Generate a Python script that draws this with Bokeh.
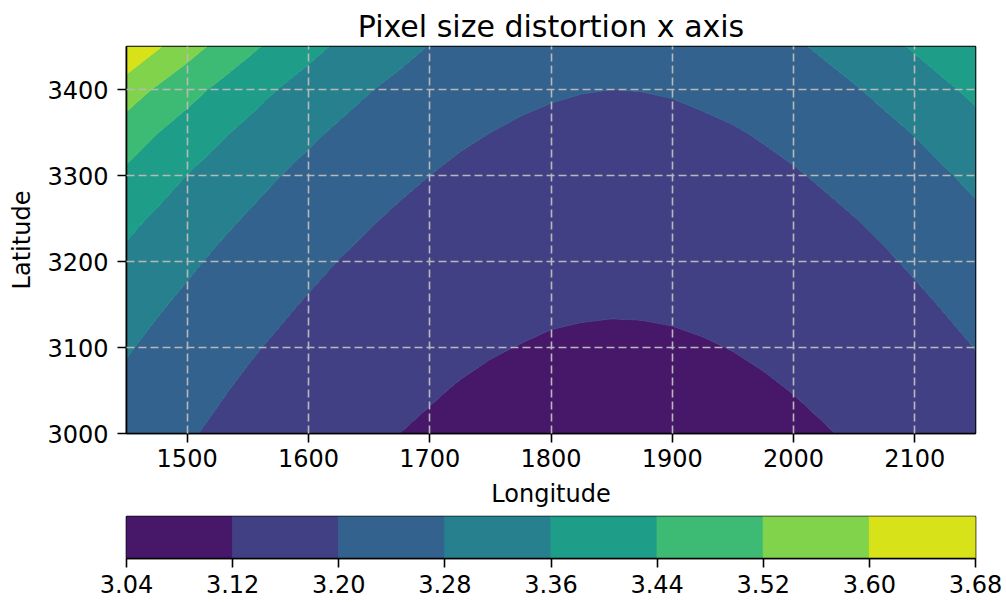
import numpy as np
from bokeh.plotting import figure
from bokeh.layouts import column
from bokeh.models import Range1d, FixedTicker, PrintfTickFormatter, ColumnDataSource
from bokeh.palettes import Viridis256
from bokeh.embed import file_html
from bokeh.resources import INLINE

# ---- data (read / estimated from the reference) ----
lon = [1450, 1475, 1500, 1525, 1550, 1575, 1600, 1625, 1650, 1675, 1700, 1725, 1750, 1775, 1800,
       1825, 1850, 1875, 1900, 1925, 1950, 1975, 2000, 2025, 2050, 2075, 2100, 2125, 2150]
lat = [3000, 3050, 3100, 3150, 3200, 3250, 3300, 3350, 3400, 3450]

size_3000 = [3.243, 3.224, 3.206, 3.190, 3.175, 3.162, 3.150, 3.139, 3.129, 3.120, 3.113, 3.107, 3.102, 3.098, 3.095,
             3.093, 3.092, 3.092, 3.094, 3.096, 3.100, 3.105, 3.110, 3.117, 3.125, 3.135, 3.145, 3.157, 3.170]
size_3050 = [3.263, 3.242, 3.224, 3.206, 3.190, 3.176, 3.163, 3.151, 3.141, 3.132, 3.124, 3.117, 3.112, 3.108, 3.104,
             3.103, 3.102, 3.102, 3.104, 3.106, 3.110, 3.115, 3.121, 3.129, 3.137, 3.147, 3.158, 3.171, 3.184]
size_3100 = [3.286, 3.263, 3.243, 3.224, 3.207, 3.192, 3.178, 3.165, 3.154, 3.145, 3.136, 3.129, 3.123, 3.119, 3.115,
             3.113, 3.112, 3.113, 3.114, 3.117, 3.121, 3.126, 3.133, 3.141, 3.150, 3.161, 3.173, 3.186, 3.201]
size_3150 = [3.312, 3.288, 3.266, 3.245, 3.227, 3.210, 3.195, 3.181, 3.169, 3.159, 3.149, 3.142, 3.135, 3.130, 3.127,
             3.125, 3.124, 3.124, 3.126, 3.129, 3.133, 3.139, 3.146, 3.155, 3.165, 3.176, 3.189, 3.204, 3.220]
size_3200 = [3.343, 3.316, 3.292, 3.269, 3.249, 3.230, 3.214, 3.199, 3.186, 3.174, 3.164, 3.156, 3.149, 3.144, 3.140,
             3.137, 3.136, 3.137, 3.138, 3.142, 3.147, 3.153, 3.161, 3.170, 3.181, 3.193, 3.208, 3.224, 3.241]
size_3250 = [3.379, 3.350, 3.322, 3.297, 3.275, 3.254, 3.236, 3.219, 3.205, 3.192, 3.181, 3.172, 3.164, 3.158, 3.154,
             3.151, 3.150, 3.150, 3.152, 3.156, 3.161, 3.168, 3.177, 3.187, 3.199, 3.213, 3.229, 3.247, 3.266]
size_3300 = [3.425, 3.391, 3.359, 3.331, 3.305, 3.282, 3.261, 3.243, 3.226, 3.212, 3.200, 3.189, 3.181, 3.174, 3.169,
             3.166, 3.165, 3.165, 3.168, 3.172, 3.178, 3.186, 3.195, 3.207, 3.220, 3.236, 3.254, 3.274, 3.296]
size_3350 = [3.482, 3.442, 3.406, 3.373, 3.343, 3.316, 3.292, 3.271, 3.252, 3.235, 3.221, 3.209, 3.200, 3.192, 3.187,
             3.183, 3.182, 3.182, 3.185, 3.190, 3.196, 3.205, 3.216, 3.229, 3.245, 3.263, 3.283, 3.306, 3.332]
size_3400 = [3.560, 3.511, 3.467, 3.427, 3.391, 3.359, 3.331, 3.305, 3.283, 3.264, 3.247, 3.233, 3.222, 3.213, 3.206,
             3.202, 3.200, 3.201, 3.204, 3.210, 3.218, 3.228, 3.241, 3.257, 3.275, 3.296, 3.320, 3.347, 3.378]
size_3450 = [3.672, 3.609, 3.552, 3.502, 3.457, 3.417, 3.381, 3.350, 3.322, 3.299, 3.278, 3.261, 3.247, 3.237, 3.229,
             3.224, 3.222, 3.223, 3.227, 3.233, 3.243, 3.255, 3.271, 3.290, 3.313, 3.339, 3.368, 3.402, 3.440]

levels = [3.04, 3.12, 3.20, 3.28, 3.36, 3.44, 3.52, 3.60, 3.68]
lon_ticks = [1500, 1600, 1700, 1800, 1900, 2000, 2100]
lat_ticks = [3000, 3100, 3200, 3300, 3400]

Z = np.array([size_3000, size_3050, size_3100, size_3150, size_3200,
              size_3250, size_3300, size_3350, size_3400, size_3450])

# viridis sampled at the middle of each filled band (as matplotlib contourf does)
span = levels[-1] - levels[0]
nb = len(levels) - 1
colors = [Viridis256[min(255, int(((levels[i] + levels[i + 1]) / 2 - levels[0]) / span * 256))]
          for i in range(nb)]
# iso-lines coloured like the band above them, to hide anti-aliasing seams
line_colors = [colors[min(k, nb - 1)] for k in range(len(levels))]

FONT = "DejaVu Sans"

p = figure(width=1006, height=513, x_range=Range1d(lon[0], lon[-1]), y_range=Range1d(lat[0], lat[-1]),
           output_backend="svg", toolbar_location=None, min_border_left=126, min_border_right=31,
           min_border_top=46, min_border_bottom=80, title="Pixel size distortion x axis")
p.contour(x=lon, y=lat, z=Z, levels=levels, fill_color=colors, line_color=line_colors, line_width=1)
p.title.text_font = FONT
p.title.text_font_size = "30px"
p.title.text_font_style = "normal"
p.title.text_color = "black"
p.title.align = "center"
p.title.standoff = 6
for ax in (p.xaxis[0], p.yaxis[0]):
    ax.major_label_text_font = FONT
    ax.major_label_text_font_size = "24px"
    ax.major_label_text_color = "black"
    ax.axis_label_text_font = FONT
    ax.axis_label_text_font_size = "24px"
    ax.axis_label_text_font_style = "normal"
    ax.axis_label_text_color = "black"
    ax.major_tick_out = 9
    ax.major_tick_in = 0
    ax.minor_tick_out = 0
    ax.minor_tick_in = 0
    ax.major_tick_line_width = 1.6
    ax.axis_line_width = 1.6
p.xaxis.axis_label = "Longitude"
p.yaxis.axis_label = "Latitude"
p.xaxis.major_label_standoff = 6
p.xaxis.axis_label_standoff = 10
p.yaxis.major_label_standoff = 9
p.yaxis.axis_label_standoff = 8
p.xaxis.ticker = FixedTicker(ticks=lon_ticks)
p.yaxis.ticker = FixedTicker(ticks=lat_ticks)
p.xgrid.ticker = FixedTicker(ticks=lon_ticks)
p.ygrid.ticker = FixedTicker(ticks=lat_ticks)
p.grid.grid_line_color = "#b8b8b8"
p.grid.grid_line_dash = "8 4"
p.grid.grid_line_width = 1.6
p.grid.level = "overlay"
p.outline_line_color = "black"
p.outline_line_width = 1.6

cb = figure(width=1006, height=89, x_range=Range1d(levels[0], levels[-1]), y_range=Range1d(0, 1),
            output_backend="svg", toolbar_location=None, min_border_left=126, min_border_right=31,
            min_border_top=3, min_border_bottom=44)
src = ColumnDataSource(dict(left=levels[:-1], right=levels[1:], color=colors))
cb.quad(left="left", right="right", bottom=0, top=1, fill_color="color", line_color="color",
        line_width=1, source=src)
cb.yaxis.visible = False
cb.grid.visible = False
cb.outline_line_color = "black"
cb.outline_line_width = 1.6
ax = cb.xaxis[0]
ax.ticker = FixedTicker(ticks=levels)
ax.formatter = PrintfTickFormatter(format="%.2f")
ax.major_label_text_font = FONT
ax.major_label_text_font_size = "24px"
ax.major_label_text_color = "black"
ax.major_tick_out = 9
ax.major_tick_in = 0
ax.minor_tick_out = 0
ax.minor_tick_in = 0
ax.major_label_standoff = 7
ax.major_tick_line_width = 1.6
ax.axis_line_width = 1.6

open("out.html", "w").write(file_html(column(p, cb), INLINE))
